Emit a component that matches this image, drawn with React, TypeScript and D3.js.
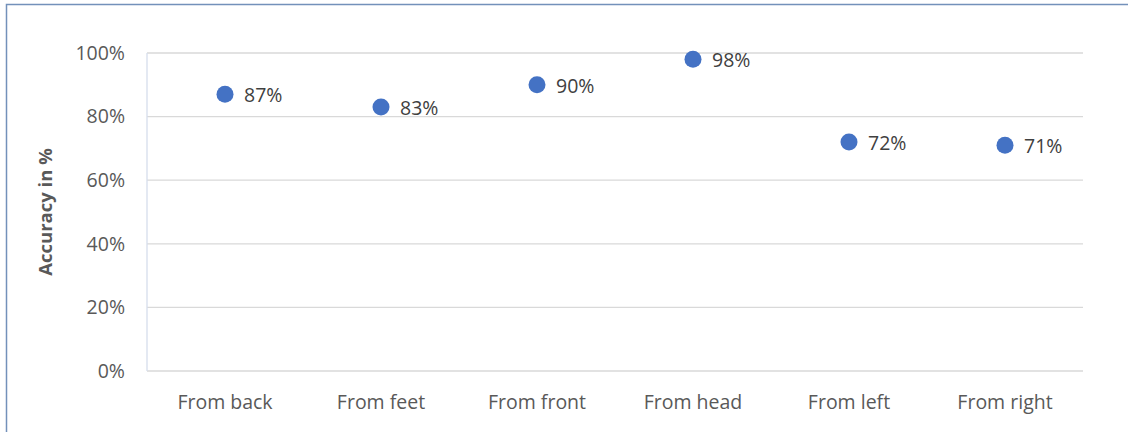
import React from "react";
import * as d3 from "d3";

const categories = ["From back", "From feet", "From front", "From head", "From left", "From right"];
const accuracy = [0.87, 0.83, 0.90, 0.98, 0.72, 0.71];
const yTicks = [0, 0.2, 0.4, 0.6, 0.8, 1.0];
const yTitle = "Accuracy in %";

const W = 1128, H = 432;
const m = { left: 147, right: 1083, top: 53, bottom: 371 };
const font = "'Open Sans', 'Liberation Sans', sans-serif";
const textColor = "#595959";

export default function App() {
  const x = d3.scaleBand().domain(categories).range([m.left, m.right]);
  const y = d3.scaleLinear().domain([0, 1]).range([m.bottom, m.top]);
  const fmt = d3.format(".0%");
  return (
    <svg width={W} height={H} style={{ position: "absolute", left: 0, top: 0, background: "#fff" }}>
      <rect x={6.5} y={4.5} width={1140} height={460} fill="#fff" stroke="#7391BA" strokeWidth={1.5} />
      {yTicks.map((t) => (
        <g key={t}>
          <line x1={m.left} x2={m.right} y1={y(t)} y2={y(t)} stroke="#D9D9D9" strokeWidth={1.3} />
          <text x={125} y={y(t)} dy="0.35em" textAnchor="end" fontFamily={font} fontSize={19.5} fill={textColor}>
            {fmt(t)}
          </text>
        </g>
      ))}
      <line x1={m.left} x2={m.left} y1={m.top} y2={m.bottom} stroke="#D6DEEC" strokeWidth={1.3} />
      {categories.map((c) => (
        <text key={c} x={x(c)! + x.bandwidth() / 2} y={402} dy="0.35em" textAnchor="middle" fontFamily={font} fontSize={19.5} fill={textColor}>
          {c}
        </text>
      ))}
      <text transform={`translate(46,${(m.top + m.bottom) / 2}) rotate(-90)`} textAnchor="middle" dy="0.35em" fontFamily={font} fontSize={18.5} fontWeight="bold" fill={textColor}>
        {yTitle}
      </text>
      {categories.map((c, i) => {
        const cx = x(c)! + x.bandwidth() / 2;
        const cy = y(accuracy[i]);
        return (
          <g key={c}>
            <circle cx={cx} cy={cy} r={8.5} fill="#4472C4" />
            <text x={cx + 19} y={cy} dy="0.4em" fontFamily={font} fontSize={19.5} fill="#404040">
              {fmt(accuracy[i])}
            </text>
          </g>
        );
      })}
    </svg>
  );
}
